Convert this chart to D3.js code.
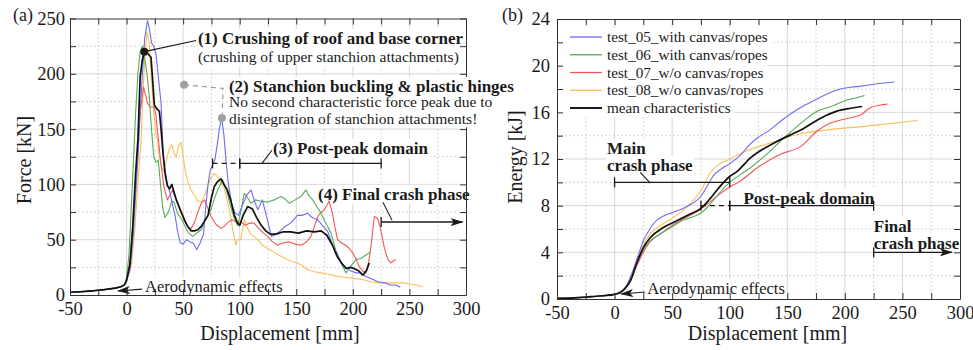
<!DOCTYPE html>
<html>
<head>
<meta charset="utf-8">
<script src="https://cdn.jsdelivr.net/npm/d3@7/dist/d3.min.js"></script>
<style>
  body { margin: 0; background: #fff; }
  svg { display: block; }
  svg text { font-family: 'Liberation Serif', 'Times New Roman', serif; }
</style>
</head>
<body>
<svg id="chart" width="973" height="350"></svg>
<script>
// ---- values ----
const seriesNames = ['test_05_with canvas/ropes', 'test_06_with canvas/ropes', 'test_07_w/o canvas/ropes',
    'test_08_w/o canvas/ropes', 'mean characteristics'];
const dispTicks = [-50, 0, 50, 100, 150, 200, 250, 300];
const forceTicks = [0, 50, 100, 150, 200, 250];
const energyTicks = [0, 4, 8, 12, 16, 20, 24];

// force [kN] vs displacement [mm]
const forceApproach = [[-50, 2.5], [-40, 3], [-30, 3.8], [-20, 4.8], [-10, 6.2], [-5, 7.5], [-2, 9]];
const force05 = [[0, 14], [3, 22], [6, 55], [8, 90], [10, 122], [12, 165], [14, 200], [16, 232], [18.5, 248], [20, 242],
    [22, 228], [24, 225], [26, 218], [28, 198], [30.5, 173], [32.5, 125], [34, 113], [36, 100], [38.5, 92], [41, 80],
    [43, 71], [45, 58], [47.5, 47], [50, 46], [53, 50], [56, 48], [59, 47], [62, 41], [65, 47], [68, 55], [70, 80],
    [72, 100], [74, 113], [78, 122], [80, 135], [82, 150], [84, 160], [86, 145], [88, 120], [90, 100], [93, 82],
    [96, 74], [99, 72], [102, 80], [106, 90], [110, 95], [113, 85], [116, 77], [120, 86], [124, 70], [128, 53],
    [132, 55], [136, 58], [140, 62], [145, 65], [151, 72], [155, 72], [160, 74], [164, 70], [169, 68], [173, 63],
    [178, 57], [182, 45], [186, 38], [190, 28], [194, 25], [198, 22], [203, 20], [207, 20], [211, 17], [216, 15],
    [222, 12], [228, 11], [233, 9], [238, 9], [242, 7]];
const force06 = [[0, 16], [2, 35], [4, 75], [6, 120], [8, 165], [10, 200], [12, 220], [14, 225], [16, 215], [18, 200],
    [20, 180], [22, 150], [24, 125], [26, 120], [28, 122], [30, 100], [32, 78], [34, 70], [37, 75], [40, 85], [42, 84],
    [45, 74], [49, 68], [52.5, 60], [55, 56], [58.5, 53], [62, 56], [66, 59], [70, 68], [74.5, 77], [78, 88],
    [80.5, 95], [85, 104], [88, 96], [92, 80], [95, 70], [98, 63], [101, 75], [104, 92], [107, 88], [110, 83],
    [114, 86], [118, 85], [124.7, 84], [130.5, 86], [136.5, 89], [140, 87], [143.6, 83], [149, 86], [154, 89],
    [158.6, 95], [161, 90], [164.5, 86], [168, 80], [172, 74], [176, 65], [180.7, 56], [185, 40], [189.5, 29],
    [194, 20], [198, 26], [202.8, 32], [207, 33], [210, 35], [213, 37], [216, 39]];
const force07 = [[0, 14], [3, 30], [6, 70], [9, 120], [12, 165], [15, 188], [17, 180], [18.6, 173], [21, 170],
    [24.5, 170], [26, 162], [28, 142], [30, 122], [33, 98], [36, 86], [38, 90], [40.7, 95], [43, 88], [46.6, 80],
    [50, 72], [54, 62], [57, 60], [59.8, 65], [63, 75], [66, 83], [69, 86], [72, 78], [74.6, 71], [79, 64],
    [83.5, 60], [86, 62], [89, 65], [93, 68], [97, 66], [101, 66], [105, 63], [109, 65], [112.7, 65], [117, 60],
    [121, 56], [124.7, 53], [129, 48], [133.5, 45], [138, 47], [143.8, 48], [149, 46], [154, 45], [159, 48],
    [163, 53], [166, 62], [169, 71], [172, 75], [174.6, 77], [177, 81], [179, 85], [182, 74], [184, 62],
    [186.5, 50], [190, 47], [195, 44], [200, 38], [203, 32], [205.5, 26], [208.5, 22], [211.6, 20], [214, 30],
    [216, 44], [218, 62], [219, 71], [220.5, 70], [222, 69], [224, 62], [225, 57], [228, 42], [231, 32],
    [233.7, 29], [236, 31], [238, 32]];
const force08 = [[0, 13], [4, 25], [7, 55], [10, 100], [12.7, 137], [14, 170], [16, 215], [18, 238], [20, 228],
    [22, 195], [24, 165], [26, 145], [27.5, 140], [29, 125], [31, 115], [33, 112], [36, 125], [38, 133], [40, 136],
    [42, 128], [44, 125], [46, 135], [48, 138], [50, 125], [52, 112], [54, 103], [57, 95], [60, 90], [63, 85],
    [66, 84], [69, 90], [71.7, 98], [74, 105], [77.6, 110], [81, 106], [84, 100], [86, 98], [89, 85], [92, 71],
    [94, 58], [96.7, 45], [98, 50], [101, 50], [104, 68], [107, 60], [110, 55], [112.7, 53], [117, 49], [120, 45],
    [124.7, 42], [130, 39], [136.5, 35], [142, 32], [147, 30], [151, 29], [156, 26], [160, 23], [166, 21], [172, 20],
    [177, 19], [182, 18], [186.5, 17], [193, 16], [201, 15], [208, 14], [216, 12], [222, 11], [231, 11], [238, 11],
    [245, 11], [250, 10], [256, 9], [261.7, 7.5]];
const forceMean = [[0, 13], [3, 28], [5.5, 62], [8, 110], [10, 140], [12, 197], [14, 213], [15.7, 220], [18, 219],
    [21.6, 215], [23, 195], [24.5, 172], [27, 168], [29, 166], [30.5, 150], [32, 131], [34, 110], [36, 99], [38, 96],
    [40, 100], [42, 93], [44, 86], [47, 78], [51, 68], [54, 62], [57, 58], [60, 58], [63, 59], [66, 62], [69, 67],
    [72, 72], [75, 88], [77.5, 98], [80, 102], [83.5, 105], [86, 100], [89, 95], [92, 86], [95, 73], [98, 65],
    [100, 63], [103, 72], [107, 80], [111, 78], [115, 70], [119, 63], [123, 58], [127, 55], [132, 55], [138, 57],
    [145, 57], [152, 56], [159, 58], [166, 57], [172, 58], [177, 54], [182, 45], [186, 35], [190, 29], [194, 24],
    [198, 25], [201, 24], [205, 22], [208.7, 18], [212, 22], [214.5, 29]];

// energy [kJ] vs displacement [mm]
const energyApproach = [[-50, 0.05], [-35, 0.1], [-20, 0.2], [-10, 0.28]];
const energy05 = [[0, 0.4], [5, 0.6], [10, 1.1], [15, 2.2], [20, 3.6], [25, 5.0], [30, 5.9], [35, 6.6], [42, 7.1],
    [50, 7.4], [58, 7.7], [66, 8.1], [74, 8.7], [80, 9.6], [86, 10.6], [92, 11.1], [100, 11.6], [110, 12.4],
    [118, 13.3], [124, 13.8], [135, 14.5], [145, 15.3], [155, 16.0], [165, 16.6], [175, 17.1], [185, 17.6],
    [196, 18.0], [205, 18.15], [214, 18.25], [228, 18.45], [243, 18.6]];
const energy06 = [[0, 0.4], [5, 0.55], [10, 1.0], [15, 2.0], [20, 3.2], [25, 4.2], [30, 4.9], [40, 5.6], [50, 6.2],
    [60, 6.8], [67, 7.0], [74, 7.3], [80, 7.8], [87, 8.6], [93, 9.3], [100, 10.0], [110, 10.7], [118, 11.25],
    [132, 12.4], [147, 13.8], [164, 15.25], [176, 16.1], [188, 16.5], [200, 17.0], [208, 17.2], [217, 17.45]];
const energy07 = [[0, 0.4], [5, 0.55], [10, 1.0], [15, 1.9], [20, 3.0], [25, 4.0], [30, 4.8], [40, 5.6], [50, 6.3],
    [60, 6.9], [70, 7.4], [80, 8.1], [90, 8.9], [100, 9.6], [109, 10.1], [124, 11.25], [144, 12.4], [162, 13.1],
    [176, 14.4], [188, 15.1], [199, 15.4], [206, 15.55], [214, 15.8], [222, 16.4], [230, 16.6], [237, 16.7]];
const energy08 = [[0, 0.4], [5, 0.6], [10, 1.05], [15, 2.1], [20, 3.4], [25, 4.6], [31, 5.6], [40, 6.3], [48, 6.8],
    [57, 7.4], [66, 8.2], [75, 9.3], [83, 10.8], [90, 11.5], [98, 11.9], [115, 12.7], [133, 13.3], [159, 14.1],
    [185, 14.5], [217, 14.8], [263, 15.3]];
const energyMean = [[0, 0.4], [5, 0.55], [10, 1.0], [14, 1.6], [19, 3.0], [25, 4.4], [31, 5.25], [42, 6.1],
    [54, 6.7], [66, 7.3], [74, 7.7], [83, 8.6], [92, 9.7], [100, 10.5], [106, 10.9], [118, 12.1], [141, 13.5],
    [162, 14.5], [179, 15.5], [193, 16.1], [205, 16.35], [215, 16.5]];

// ---- styles ----
const colors = ['#6c6cf4', '#58ab58', '#ef5858', '#fbbf56', '#111111'];
const widths = [1.1, 1.1, 1.1, 1.1, 1.7];
const ink = '#1a1a1a';
const serif = "'Liberation Serif', 'Times New Roman', serif";

const svg = d3.select('#chart');

const defs = svg.append('defs');
defs.append('marker')
    .attr('id', 'head')
    .attr('viewBox', '0 0 13 8')
    .attr('refX', 12)
    .attr('refY', 4)
    .attr('markerWidth', 13)
    .attr('markerHeight', 8)
    .attr('markerUnits', 'userSpaceOnUse')
    .attr('orient', 'auto')
    .append('path')
    .attr('d', 'M0,0 L13,4 L0,8 L3,4 Z')
    .attr('fill', ink);

// major ticks plus the midpoints between them
function withMinor(t) {
    const out = [];
    t.forEach((v, i) => {
        out.push(v);
        if (i < t.length - 1) { out.push((v + t[i + 1]) / 2); }
    });
    return out;
}

function makePanel(cfg) {
    const x = d3.scaleLinear().domain([dispTicks[0], dispTicks[dispTicks.length - 1]]).range([cfg.left, cfg.right]);
    const y = d3.scaleLinear().domain([0, d3.max(cfg.yTicks)]).range([cfg.bottom, cfg.top]);
    const xAll = withMinor(dispTicks);
    const yAll = withMinor(cfg.yTicks);
    const root = svg.append('g');
    const layers = {
        grid: root.append('g'),
        bg: root.append('g'),
        curves: root.append('g'),
        notes: root.append('g'),
        axes: root.append('g'),
        top: root.append('g')
    };

    // grid: solid on major ticks, dotted in between
    layers.grid.selectAll('.gx').data(xAll.slice(1, -1)).enter().append('line')
        .attr('x1', d => x(d)).attr('x2', d => x(d))
        .attr('y1', cfg.bottom).attr('y2', cfg.top)
        .attr('stroke', '#cdcdcd').attr('stroke-width', 0.8)
        .attr('stroke-dasharray', d => dispTicks.includes(d) ? null : '2,2');
    layers.grid.selectAll('.gy').data(yAll.slice(1, -1)).enter().append('line')
        .attr('y1', d => y(d)).attr('y2', d => y(d))
        .attr('x1', cfg.left).attr('x2', cfg.right)
        .attr('stroke', '#cdcdcd').attr('stroke-width', 0.8)
        .attr('stroke-dasharray', d => cfg.yTicks.includes(d) ? null : '2,2');

    // curves
    const line = d3.line().x(d => x(d[0])).y(d => y(d[1])).curve(cfg.curve);
    const order = [3, 2, 1, 0, 4];
    layers.curves.selectAll('path').data(order).enter().append('path')
        .attr('d', i => line(cfg.series[i]))
        .attr('fill', 'none')
        .attr('stroke', i => colors[i])
        .attr('stroke-width', i => widths[i])
        .attr('stroke-linejoin', 'round');

    // axes, ticks pointing inwards on all four sides
    const label = major => d => (major.includes(d) ? d : '');
    const styleAxis = sel => {
        sel.attr('font-family', serif).attr('font-size', 18.5);
        sel.selectAll('path, line').attr('stroke', '#333').attr('stroke-width', 1);
        sel.selectAll('text').attr('font-family', serif).attr('font-size', 18.5).attr('fill', ink);
    };
    layers.axes.append('g').attr('transform', 'translate(0,' + cfg.bottom + ')')
        .call(d3.axisBottom(x).tickValues(xAll).tickFormat(label(dispTicks))
            .tickSizeInner(-6).tickSizeOuter(0).tickPadding(7))
        .call(styleAxis);
    layers.axes.append('g').attr('transform', 'translate(0,' + cfg.top + ')')
        .call(d3.axisTop(x).tickValues(xAll).tickFormat('').tickSizeInner(-6).tickSizeOuter(0))
        .call(styleAxis);
    layers.axes.append('g').attr('transform', 'translate(' + cfg.left + ',0)')
        .call(d3.axisLeft(y).tickValues(yAll).tickFormat(label(cfg.yTicks))
            .tickSizeInner(-6).tickSizeOuter(0).tickPadding(cfg.yPad))
        .call(styleAxis);
    layers.axes.append('g').attr('transform', 'translate(' + cfg.right + ',0)')
        .call(d3.axisRight(y).tickValues(yAll).tickFormat('').tickSizeInner(-6).tickSizeOuter(0))
        .call(styleAxis);

    // axis titles and panel letter
    layers.axes.append('text')
        .text('Displacement [mm]')
        .attr('x', (cfg.left + cfg.right) / 2 + cfg.xTitleShift)
        .attr('y', 340)
        .attr('font-size', 20)
        .attr('fill', ink)
        .style('text-anchor', 'middle');
    layers.axes.append('text')
        .text(cfg.yTitle)
        .attr('transform', 'translate(' + cfg.yTitleX + ',' + cfg.yTitleY + ') rotate(-90)')
        .attr('font-size', 20)
        .attr('fill', ink)
        .style('text-anchor', 'middle')
        .style('dominant-baseline', 'central');
    layers.axes.append('text')
        .text(cfg.letter)
        .attr('x', cfg.letterX)
        .attr('y', 21)
        .attr('font-size', 18)
        .attr('fill', ink);

    return { x, y, layers };
}

// text with an optional white box behind it
function note(bgLayer, textLayer, px, py, str, size, bold) {
    const t = textLayer.append('text')
        .text(str)
        .attr('x', px)
        .attr('y', py)
        .attr('font-size', size)
        .attr('font-weight', bold ? 'bold' : null)
        .attr('fill', ink);
    if (bgLayer) {
        const b = t.node().getBBox();
        bgLayer.append('rect')
            .attr('x', b.x - 1).attr('y', b.y)
            .attr('width', b.width + 2).attr('height', b.height)
            .attr('fill', '#fff');
    }
    return t;
}

function seg(g, x1, y1, x2, y2, opts = {}) {
    return g.append('line')
        .attr('x1', x1).attr('y1', y1).attr('x2', x2).attr('y2', y2)
        .attr('stroke', opts.color || ink)
        .attr('stroke-width', opts.width || 1.2)
        .attr('stroke-dasharray', opts.dash || null)
        .attr('marker-end', opts.arrow ? 'url(#head)' : null);
}

// horizontal phase bar with end bars
function bar(g, x, y, from, to, level, dashed) {
    const yy = y(level);
    seg(g, x(from), yy, x(to), yy, { dash: dashed ? '5,4' : null, width: 1.3 });
    [from, to].forEach(v => seg(g, x(v), yy - 5, x(v), yy + 5, { width: 1.3 }));
}

// ---------------- (a) force ----------------
const A = makePanel({
    left: 70, right: 466, bottom: 295, top: 18.5,
    yTicks: forceTicks, yPad: 5,
    series: [force05, force06, force07, force08, forceMean].map(s => forceApproach.concat(s)),
    curve: d3.curveLinear,
    yTitle: 'Force [kN]', yTitleX: 24, yTitleY: 160,
    xTitleShift: 12, letter: '(a)', letterX: 13
});
{
    const { x, y, layers } = A;
    const L = layers;

    // (1) first peak
    seg(L.notes, x(15.7), y(220), x(61.4), y(230.1), { width: 1.2 });
    L.notes.append('circle').attr('cx', x(15.7)).attr('cy', y(220)).attr('r', 4).attr('fill', ink);
    note(L.bg, L.notes, x(63.1), y(226.9), '(1) Crushing of roof and base corner', 17, true);
    note(L.bg, L.notes, x(63.1), y(210.3), '(crushing of upper stanchion attachments)', 15.5, false);

    // (2) stanchion buckling, grey dashed pointer
    L.notes.append('path')
        .attr('d', d3.line()([[x(50.8), y(190)], [x(85.2), y(186.8)], [x(84.6), y(164)]]))
        .attr('fill', 'none').attr('stroke', '#9a9a9a').attr('stroke-width', 1.2).attr('stroke-dasharray', '5,4');
    [[50.8, 190], [84.3, 160]].forEach(p => L.notes.append('circle')
        .attr('cx', x(p[0])).attr('cy', y(p[1])).attr('r', 4).attr('fill', '#a0a0a0'));
    note(L.top, L.top, x(90.5), y(183.6), '(2) Stanchion buckling & plastic hinges', 17, true);
    note(L.top, L.top, x(90.5), y(169.7), 'No second characteristic force peak due to', 15.5, false);
    note(L.top, L.top, x(90.5), y(154.3), 'disintegration of stanchion attachments!', 15.5, false);
    L.top.selectAll('text').raise();

    // (3) post-peak domain
    bar(L.notes, x, y, 76, 100, 119, true);
    bar(L.notes, x, y, 100, 225, 119, false);
    seg(L.notes, x(128.5), y(130.9), x(119.7), y(119), { width: 1.1 });
    note(L.bg, L.notes, x(129.4), y(127.6), '(3) Post-peak domain', 17, true);

    // (4) final crash phase
    seg(L.notes, x(225), y(66) - 5, x(225), y(66) + 5, { width: 1.3 });
    seg(L.notes, x(225), y(66), x(297), y(66), { width: 1.3, arrow: true });
    seg(L.notes, x(226.6), y(83.9), x(234.6), y(67.7), { width: 1.1 });
    note(L.bg, L.notes, x(169.2), y(86.1), '(4) Final crash phase', 17, true);

    // aerodynamic effects
    seg(L.notes, x(13.6), y(5.4), x(-7.6), y(3.6), { width: 1.2, arrow: true });
    note(L.bg, L.notes, x(16.3), y(2.3), 'Aerodynamic effects', 16.5, false);
}

// ---------------- (b) energy ----------------
const B = makePanel({
    left: 557, right: 960, bottom: 299, top: 19,
    yTicks: energyTicks, yPad: 7,
    series: [energy05, energy06, energy07, energy08, energyMean].map(s => energyApproach.concat(s)),
    curve: d3.curveMonotoneX,
    yTitle: 'Energy [kJ]', yTitleX: 515, yTitleY: 157,
    xTitleShift: 9, letter: '(b)', letterX: 502
});
{
    const { x, y, layers } = B;
    const L = layers;

    // legend, each row on a white box
    const legendRows = L.notes.append('g');
    seriesNames.forEach((name, i) => {
        const ry = y(24) + 18 + i * 17.75;
        const t = note(null, legendRows, x(-50) + 50, ry + 5, name, 15.2, false);
        const b = t.node().getBBox();
        L.bg.append('rect')
            .attr('x', x(-50) + 1).attr('y', ry - 9)
            .attr('width', b.x + b.width + 4 - x(-50) - 1).attr('height', 18)
            .attr('fill', '#fff');
        seg(legendRows, x(-50) + 13, ry, x(-50) + 45, ry, { color: colors[i], width: widths[i] + 0.2 });
    });

    // main crash phase
    note(L.bg, L.notes, x(-6.5), y(12.4), 'Main', 17, true);
    note(L.bg, L.notes, x(-6.5), y(10.95), 'crash phase', 17, true);
    bar(L.notes, x, y, 0, 100, 10, false);
    seg(L.notes, x(22.3), y(10.85), x(31), y(9.94), { width: 1.1 });

    // post-peak domain
    bar(L.notes, x, y, 75, 100, 8, true);
    bar(L.notes, x, y, 100, 225, 8, false);
    note(L.bg, L.notes, x(111.9), y(8.18), 'Post-peak domain', 17, true);

    // final crash phase
    note(L.bg, L.notes, x(225.1), y(5.75), 'Final', 17, true);
    note(L.bg, L.notes, x(225.1), y(4.3), 'crash phase', 17, true);
    seg(L.notes, x(225), y(4) - 5, x(225), y(4) + 5, { width: 1.3 });
    seg(L.notes, x(225), y(4), x(293), y(4), { width: 1.3, arrow: true });

    // aerodynamic effects
    seg(L.notes, x(26.6), y(0.6), x(5.7), y(0.43), { width: 1.2, arrow: true });
    note(L.bg, L.notes, x(28.4), y(0.39), 'Aerodynamic effects', 16.5, false);
}
</script>
</body>
</html>
